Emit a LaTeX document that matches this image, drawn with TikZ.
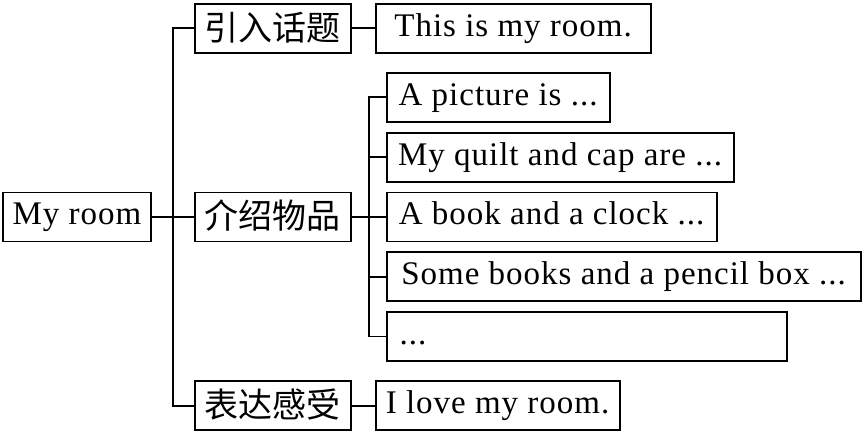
\documentclass[tikz,border=0pt]{standalone}
\usepackage{fontspec}
\setmainfont{Liberation Serif}[LetterSpace=3.0]
\newfontfamily\cjk{Noto Sans CJK SC}
\usetikzlibrary{positioning,calc}
\tikzstyle{box}=[draw, line width=1.8pt, inner xsep=6pt, inner ysep=8.5pt,
text height=24pt, text depth=8pt, font=\fontsize{33}{40}\selectfont]
\tikzstyle{topic}=[box, minimum width=156pt, inner ysep=10.5pt,
text height=26pt, text depth=2pt, font=\cjk\fontsize{34}{40}\selectfont]
\tikzstyle{link}=[line width=1.8pt]

\begin{document}
\begin{tikzpicture}[x=1pt, y=1pt, node distance=9pt]
    \useasboundingbox (0,0) rectangle (868,436);

    \node[box, minimum width=148pt] (root) at (77,219) {My room};

    \node[topic, right=42pt of root] (mid) {介绍物品};
    \node[topic, above=138pt of mid] (intro) {引入话题};
    \node[topic, below=138pt of mid] (feel) {表达感受};

    \node[box, minimum width=275pt, right=23pt of intro] (this) {This is my room.};
    \node[box, minimum width=244pt, right=23pt of feel] (love) {I love my room.};

    \node[box, minimum width=330pt, right=34pt of mid] (book) {A book and a clock ...};
    \node[box, minimum width=347pt, above=of book.north west, anchor=south west] (quilt) {My quilt and cap are ...};
    \node[box, minimum width=223pt, above=of quilt.north west, anchor=south west] (pic) {A picture is ...};
    \node[box, minimum width=474pt, below=of book.south west, anchor=north west] (some) {Some books and a pencil box ...};
    \node[box, text width=374pt, align=left, inner xsep=13pt, below=of some.south west, anchor=north west] (dots) {...};

    \coordinate (trunk) at ($(root.east)!0.5!(mid.west)$);
    \coordinate (branch) at ($(mid.east)!0.5!(book.west)$);

    \draw[link] (root) -- (mid);
    \draw[link] (intro.west) -| (trunk) |- (feel.west);
    \draw[link] (intro) -- (this);
    \draw[link] (feel) -- (love);

    \draw[link] (mid) -- (book);
    \draw[link] (pic.west) -| (branch) |- (dots.west);
    \foreach \n in {quilt,some}
        \draw[link] (\n.west) -- (\n.west -| branch);
\end{tikzpicture}
\end{document}
